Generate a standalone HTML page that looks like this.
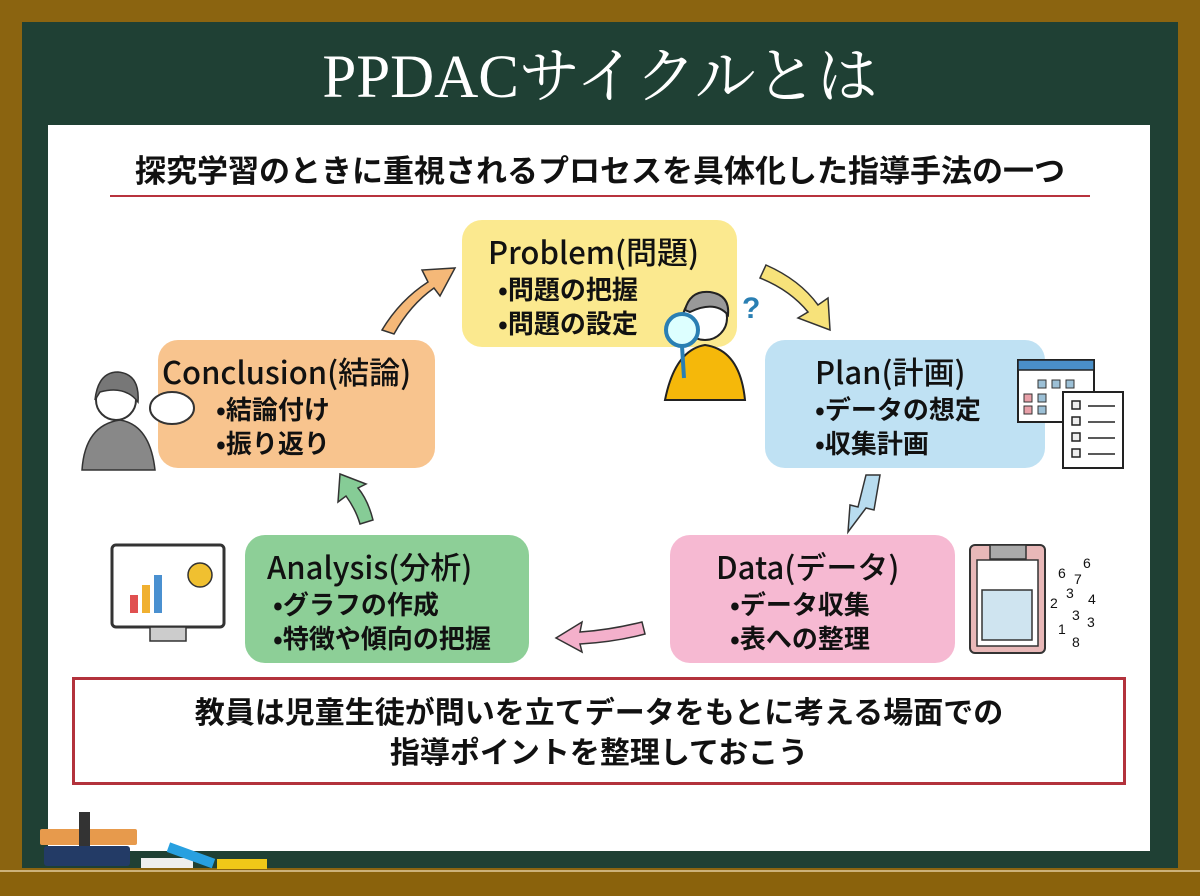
<!DOCTYPE html>
<html><head><meta charset="utf-8"><style>
*{margin:0;padding:0;box-sizing:border-box}
body{width:1200px;height:896px;overflow:hidden;background:#8b6410;position:relative;font-family:"Noto Sans CJK JP","Liberation Sans",sans-serif}
.board{position:absolute;left:22px;top:22px;width:1156px;height:846px;background:#1f4034}
.tray{position:absolute;left:0;top:870px;width:1200px;height:26px;background:#8a620c;border-top:2px solid #cdb27a}
.panel{position:absolute;left:48px;top:125px;width:1102px;height:726px;background:#fff}
h1{position:absolute;left:0;top:38px;width:1200px;text-align:center;color:#fff;font-family:"Liberation Serif","Noto Serif CJK SC",serif;font-weight:normal;font-size:61px;line-height:80px}
.sub{position:absolute;left:50px;top:148px;width:1100px;text-align:center;font-weight:bold;font-size:31px;color:#111;line-height:42px;white-space:nowrap}
.ul{position:absolute;left:110px;top:195px;width:980px;height:2px;background:#b8323e}
.box{position:absolute;border-radius:20px;font-weight:bold;color:#111;font-size:26px;line-height:34px;padding-top:10px;white-space:nowrap}
.box .t{font-size:31px;font-weight:500;line-height:42px}
.note{position:absolute;left:72px;top:677px;width:1054px;height:108px;border:3px solid #b3323c;text-align:center;font-weight:bold;font-size:30px;line-height:40px;padding-top:10px;color:#111}
</style></head><body>
<div class="board"></div>
<div class="tray"></div>
<h1>PPDACサイクルとは</h1>
<div class="panel"></div>
<div class="sub">探究学習のときに重視されるプロセスを具体化した指導手法の一つ</div>
<div class="ul"></div>

<div class="box" style="left:462px;top:220px;width:275px;height:127px;background:#fbe98f;padding-left:26px"><div class="t">Problem(問題)</div><div style="padding-left:10px">•問題の把握<br>•問題の設定</div></div>
<div class="box" style="left:765px;top:340px;width:280px;height:128px;background:#bfe1f3;padding-left:50px"><div class="t">Plan(計画)</div><div>•データの想定<br>•収集計画</div></div>
<div class="box" style="left:670px;top:535px;width:285px;height:128px;background:#f6b9d2;padding-left:46px"><div class="t">Data(データ)</div><div style="padding-left:14px">•データ収集<br>•表への整理</div></div>
<div class="box" style="left:245px;top:535px;width:284px;height:128px;background:#8dcf97;padding-left:22px"><div class="t">Analysis(分析)</div><div style="padding-left:6px">•グラフの作成<br>•特徴や傾向の把握</div></div>
<div class="box" style="left:158px;top:340px;width:277px;height:128px;background:#f8c48e;padding-left:4px"><div class="t">Conclusion(結論)</div><div style="padding-left:54px">•結論付け<br>•振り返り</div></div>

<svg width="1200" height="896" style="position:absolute;left:0;top:0" fill="none" stroke="#333" stroke-width="1.5">
<path d="M382 330 Q400 300 428 282 L422 270 L455 268 L440 296 L434 288 Q410 305 394 334 Z" fill="#f5b878"/>
<path d="M766 265 Q800 280 818 305 L828 298 L830 330 L798 318 L808 312 Q790 290 760 278 Z" fill="#f7e27a"/>
<path d="M880 475 L874 510 L866 508 L848 532 L850 505 L858 507 L866 475 Z" fill="#b8dcef"/>
<path d="M642 622 Q610 630 580 632 L582 622 L556 638 L582 652 L580 644 Q615 642 645 634 Z" fill="#f4b0cb"/>
<path d="M373 520 Q368 500 358 488 L366 484 L340 474 L338 502 L346 496 Q356 510 360 524 Z" fill="#86cc96"/>
<g stroke="#222" stroke-width="2">
<path d="M665 400 Q675 350 705 345 Q740 350 745 400 Z" fill="#f5b80a"/>
<circle cx="705" cy="318" r="22" fill="#fff"/>
<path d="M685 310 Q690 290 710 292 Q730 295 728 315 Q715 300 690 312Z" fill="#999"/>
<circle cx="682" cy="330" r="16" fill="#dff" stroke="#2a7fb3" stroke-width="4"/>
<line x1="682" y1="346" x2="684" y2="378" stroke="#2a7fb3" stroke-width="4"/>
</g>
<text x="742" y="318" font-size="30" font-weight="bold" fill="#2a7fb3" stroke="none" font-family="Liberation Sans">?</text>
<rect x="1018" y="360" width="76" height="62" fill="#fff" stroke="#222" stroke-width="2"/>
<rect x="1018" y="360" width="76" height="10" fill="#4a8fc8" stroke="#222"/>
<g fill="#9cc0d6" stroke="#333" stroke-width="1"><rect x="1038" y="380" width="8" height="8"/><rect x="1052" y="380" width="8" height="8"/><rect x="1066" y="380" width="8" height="8"/><rect x="1024" y="394" width="8" height="8" fill="#e8a0a8"/><rect x="1038" y="394" width="8" height="8"/><rect x="1024" y="406" width="8" height="8" fill="#e8a0a8"/><rect x="1038" y="406" width="8" height="8"/></g>
<rect x="1063" y="392" width="60" height="76" fill="#fff" stroke="#222" stroke-width="2"/>
<g stroke="#222" stroke-width="1.5"><line x1="1088" y1="406" x2="1115" y2="406"/><line x1="1088" y1="422" x2="1115" y2="422"/><line x1="1088" y1="438" x2="1115" y2="438"/><line x1="1088" y1="454" x2="1115" y2="454"/><rect x="1072" y="401" width="8" height="8" fill="#eee"/><rect x="1072" y="417" width="8" height="8" fill="#eee"/><rect x="1072" y="433" width="8" height="8" fill="#eee"/><rect x="1072" y="449" width="8" height="8" fill="#eee"/></g>
<rect x="970" y="545" width="75" height="108" rx="5" fill="#e8b8b8" stroke="#333" stroke-width="2"/>
<rect x="977" y="560" width="61" height="86" fill="#fff" stroke="#333"/>
<rect x="990" y="545" width="36" height="14" fill="#aaa" stroke="#333"/>
<rect x="982" y="590" width="50" height="50" fill="#cfe4f0" stroke="#333"/>
<text font-size="14" fill="#111" stroke="none" font-family="Liberation Sans"><tspan x="1058" y="578">6</tspan><tspan x="1083" y="568">6</tspan><tspan x="1074" y="584">7</tspan><tspan x="1066" y="598">3</tspan><tspan x="1088" y="604">4</tspan><tspan x="1050" y="608">2</tspan><tspan x="1072" y="620">3</tspan><tspan x="1087" y="627">3</tspan><tspan x="1058" y="634">1</tspan><tspan x="1072" y="647">8</tspan></text>
<rect x="112" y="545" width="112" height="82" rx="4" fill="#fff" stroke="#333" stroke-width="3"/>
<rect x="150" y="627" width="36" height="14" fill="#ccc" stroke="#333"/>
<rect x="130" y="595" width="8" height="18" fill="#e05050" stroke="none"/><rect x="142" y="585" width="8" height="28" fill="#f0b030" stroke="none"/><rect x="154" y="575" width="8" height="38" fill="#4a90d0" stroke="none"/>
<circle cx="200" cy="575" r="12" fill="#f0c030"/>
<path d="M82 470 Q85 425 120 420 Q150 425 155 470 Z" fill="#888" stroke="#333"/>
<circle cx="116" cy="400" r="20" fill="#fff" stroke="#333" stroke-width="2"/>
<path d="M95 400 Q98 372 118 372 Q140 374 138 402 Q125 385 100 392Z" fill="#777"/>
<ellipse cx="172" cy="408" rx="22" ry="16" fill="#fff" stroke="#333" stroke-width="2"/>
<rect x="44" y="846" width="86" height="20" rx="3" fill="#233b66" stroke="none"/>
<rect x="40" y="829" width="97" height="16" rx="2" fill="#e79a4c" stroke="none"/>
<rect x="79" y="812" width="11" height="34" fill="#333" stroke="none"/>
<rect x="141" y="858" width="52" height="10" fill="#eee" stroke="none"/>
<rect x="217" y="859" width="50" height="10" fill="#f0c818" stroke="none"/>
<rect x="167" y="850" width="48" height="10" fill="#28a0e0" stroke="none" transform="rotate(20 190 855)"/>
</svg>

<div class="note">教員は児童生徒が問いを立てデータをもとに考える場面での<br>指導ポイントを整理しておこう</div>
</body></html>
